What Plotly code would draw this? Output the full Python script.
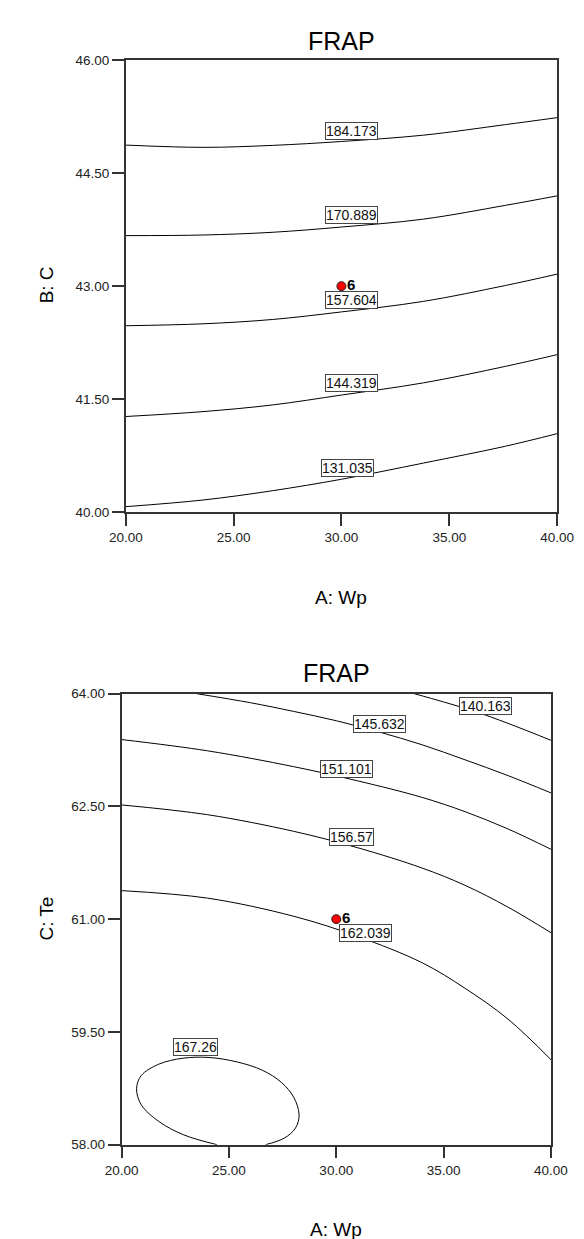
import plotly.graph_objects as go

FONT = "Arial, Liberation Sans, Helvetica, sans-serif"

# ---------------- data: top panel (A: Wp vs B: C) ----------------
top_x = [20, 23.58, 26.79, 30, 33.8, 37.6, 40]
top_c184 = [44.875, 44.845, 44.871, 44.923, 45.007, 45.147, 45.24]
top_c171 = [43.672, 43.68, 43.716, 43.786, 43.891, 44.074, 44.20]
top_c158 = [42.474, 42.50, 42.557, 42.658, 42.798, 43.009, 43.16]
top_c144 = [41.268, 41.333, 41.421, 41.553, 41.715, 41.934, 42.09]
top_c131 = [40.07, 40.158, 40.281, 40.434, 40.649, 40.873, 41.04]
top_labels = ["184.173", "170.889", "157.604", "144.319", "131.035"]
top_label_x = [30.45, 30.45, 30.45, 30.45, 30.28]
top_label_y = [45.064, 43.948, 42.82, 41.71, 40.58]
top_point = (30, 43)

# ---------------- data: bottom panel (A: Wp vs C: Te) ----------------
c140_x = [33.63, 35.0, 36.5, 38.0, 40.0]
c140_y = [64.0, 63.89, 63.76, 63.605, 63.38]
c145_x = [23.5, 26.0, 28.0, 30.0, 32.0, 34.0, 36.0, 38.0, 40.0]
c145_y = [64.0, 63.88, 63.765, 63.64, 63.49, 63.32, 63.12, 62.91, 62.68]
c151_x = [20, 24, 28, 31, 34, 36, 38, 40]
c151_y = [63.39, 63.24, 63.03, 62.84, 62.62, 62.43, 62.20, 61.93]
c157_x = [20, 24, 28, 31, 34, 36, 38, 40]
c157_y = [62.52, 62.39, 62.17, 61.95, 61.68, 61.45, 61.16, 60.82]
c162_x = [20, 24, 28, 31, 34, 36, 38, 40]
c162_y = [61.38, 61.28, 61.04, 60.77, 60.42, 60.08, 59.67, 59.13]
c167_x = [24.44, 22.9, 21.73, 20.92, 20.70, 20.92, 21.73, 22.86, 24.07,
          25.39, 26.56, 27.44, 28.02, 28.27, 28.1, 27.58, 26.71]
c167_y = [58.0, 58.13, 58.31, 58.53, 58.744, 58.92, 59.07, 59.15, 59.16,
          59.10, 58.99, 58.83, 58.63, 58.395, 58.22, 58.087, 58.0]
bot_labels = ["140.163", "145.632", "151.101", "156.57", "162.039", "167.26"]
bot_label_x = [36.93, 32.03, 30.48, 30.73, 31.38, 23.46]
bot_label_y = [63.84, 63.6, 63.0, 62.095, 60.81, 59.30]
bot_point = (30, 61)

point_label = "6"
x_ticks = [20, 25, 30, 35, 40]
top_y_ticks = [40, 41.5, 43, 44.5, 46]
bot_y_ticks = [58, 59.5, 61, 62.5, 64]

fig = go.Figure()

def line(xs, ys, xa, ya, name):
    fig.add_trace(go.Scatter(x=xs, y=ys, mode="lines", xaxis=xa, yaxis=ya,
                             line=dict(color="black", width=1, shape="spline", smoothing=1),
                             name=name, showlegend=False, hoverinfo="skip"))

for ys, nm in zip([top_c184, top_c171, top_c158, top_c144, top_c131], top_labels):
    line(top_x, ys, "x", "y", nm)

for xs, ys, nm in zip([c140_x, c145_x, c151_x, c157_x, c162_x, c167_x],
                      [c140_y, c145_y, c151_y, c157_y, c162_y, c167_y], bot_labels):
    line(xs, ys, "x2", "y2", nm)

for (px, py), xa, ya in [(top_point, "x", "y"), (bot_point, "x2", "y2")]:
    fig.add_trace(go.Scatter(x=[px], y=[py], mode="markers", xaxis=xa, yaxis=ya,
                             marker=dict(color="red", size=9, line=dict(color="#222", width=1)),
                             cliponaxis=False, showlegend=False, hoverinfo="skip"))

annotations = []
for t, lx, ly in zip(top_labels, top_label_x, top_label_y):
    annotations.append(dict(text=t, x=lx, y=ly, xref="x", yref="y", showarrow=False,
                            bgcolor="white", bordercolor="#444", borderwidth=1, borderpad=0,
                            font=dict(family=FONT, size=14, color="#111")))
for t, lx, ly in zip(bot_labels, bot_label_x, bot_label_y):
    annotations.append(dict(text=t, x=lx, y=ly, xref="x2", yref="y2", showarrow=False,
                            bgcolor="white", bordercolor="#444", borderwidth=1, borderpad=0,
                            font=dict(family=FONT, size=14, color="#111")))

# design-point labels, drawn on top of the contour boxes
for (px, py), xr, yr in [(top_point, "x", "y"), (bot_point, "x2", "y2")]:
    annotations.append(dict(text="<b>%s</b>" % point_label, x=px, y=py, xref=xr, yref=yr,
                            showarrow=False, xanchor="left", yanchor="middle",
                            xshift=4, yshift=2,
                            font=dict(family=FONT, size=15, color="black")))

H = 1239.0
W = 584.0
def txt(text, px, py, size, angle=0):
    return dict(text=text, x=px / W, y=1 - py / H, xref="paper", yref="paper",
                showarrow=False, xanchor="center", yanchor="middle", textangle=angle,
                font=dict(family=FONT, size=size, color="black"))

annotations += [
    txt("FRAP", 336, 26.5, 25),
    txt("FRAP", 330.5, 666.5, 25),
    txt("A: Wp", 336, 590, 19),
    txt("A: Wp", 330.5, 1229, 19),
    txt("B: C", 23, 273, 19, -90),
    txt("C: Te", 23, 915, 19, -90),
]

def axis(rng, ticks, domain, anchor):
    return dict(range=rng, tickvals=ticks, tickformat=".2f", ticks="outside", ticklen=12,
                tickwidth=1.5, tickcolor="#333", showline=True, linecolor="#333",
                linewidth=1.5, mirror=True, showgrid=False, zeroline=False,
                domain=domain, anchor=anchor,
                tickfont=dict(family=FONT, size=13.5, color="#222"))

fig.update_layout(
    width=584, height=1239,
    margin=dict(l=0, r=0, t=0, b=0),
    paper_bgcolor="white", plot_bgcolor="white",
    showlegend=False,
    xaxis=axis([20, 40], x_ticks, [107 / W, 565 / W], "y"),
    yaxis=axis([40, 46], top_y_ticks, [1 - 503 / H, 1 - 46 / H], "x"),
    xaxis2=axis([20, 40], x_ticks, [102.5 / W, 558.5 / W], "y2"),
    yaxis2=axis([58, 64], bot_y_ticks, [1 - 1143.5 / H, 1 - 687 / H], "x2"),
    annotations=annotations,
)

fig.write_html("out.html")
